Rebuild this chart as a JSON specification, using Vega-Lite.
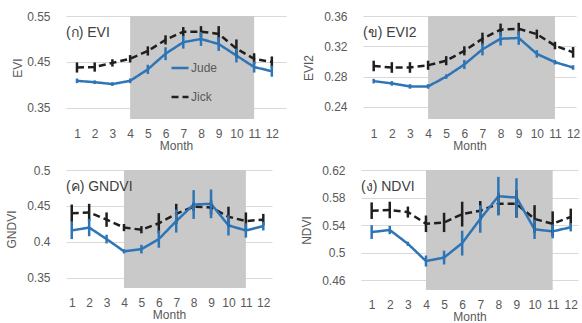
{
  "$schema": "https://vega.github.io/schema/vega-lite/v6.json",
  "padding": {"left": 5, "top": 10, "right": 5, "bottom": 5},
  "data": {"values": [
    {"index":"EVI","series":"Jick","month":1,"value":0.438,"err":0.011},
    {"index":"EVI","series":"Jick","month":2,"value":0.439,"err":0.01},
    {"index":"EVI","series":"Jick","month":3,"value":0.448,"err":0.008},
    {"index":"EVI","series":"Jick","month":4,"value":0.457,"err":0.008},
    {"index":"EVI","series":"Jick","month":5,"value":0.474,"err":0.01},
    {"index":"EVI","series":"Jick","month":6,"value":0.498,"err":0.01},
    {"index":"EVI","series":"Jick","month":7,"value":0.516,"err":0.01},
    {"index":"EVI","series":"Jick","month":8,"value":0.516,"err":0.012},
    {"index":"EVI","series":"Jick","month":9,"value":0.511,"err":0.017},
    {"index":"EVI","series":"Jick","month":10,"value":0.479,"err":0.02},
    {"index":"EVI","series":"Jick","month":11,"value":0.457,"err":0.012},
    {"index":"EVI","series":"Jick","month":12,"value":0.45,"err":0.012},
    {"index":"EVI","series":"Jude","month":1,"value":0.409,"err":0.005},
    {"index":"EVI","series":"Jude","month":2,"value":0.406,"err":0.004},
    {"index":"EVI","series":"Jude","month":3,"value":0.402,"err":0.004},
    {"index":"EVI","series":"Jude","month":4,"value":0.409,"err":0.005},
    {"index":"EVI","series":"Jude","month":5,"value":0.434,"err":0.01},
    {"index":"EVI","series":"Jude","month":6,"value":0.468,"err":0.014},
    {"index":"EVI","series":"Jude","month":7,"value":0.493,"err":0.014},
    {"index":"EVI","series":"Jude","month":8,"value":0.5,"err":0.015},
    {"index":"EVI","series":"Jude","month":9,"value":0.489,"err":0.015},
    {"index":"EVI","series":"Jude","month":10,"value":0.464,"err":0.015},
    {"index":"EVI","series":"Jude","month":11,"value":0.439,"err":0.012},
    {"index":"EVI","series":"Jude","month":12,"value":0.43,"err":0.012},
    {"index":"EVI2","series":"Jick","month":1,"value":0.294,"err":0.007},
    {"index":"EVI2","series":"Jick","month":2,"value":0.292,"err":0.007},
    {"index":"EVI2","series":"Jick","month":3,"value":0.292,"err":0.007},
    {"index":"EVI2","series":"Jick","month":4,"value":0.295,"err":0.006},
    {"index":"EVI2","series":"Jick","month":5,"value":0.301,"err":0.006},
    {"index":"EVI2","series":"Jick","month":6,"value":0.314,"err":0.006},
    {"index":"EVI2","series":"Jick","month":7,"value":0.33,"err":0.008},
    {"index":"EVI2","series":"Jick","month":8,"value":0.342,"err":0.008},
    {"index":"EVI2","series":"Jick","month":9,"value":0.343,"err":0.008},
    {"index":"EVI2","series":"Jick","month":10,"value":0.336,"err":0.006},
    {"index":"EVI2","series":"Jick","month":11,"value":0.321,"err":0.005},
    {"index":"EVI2","series":"Jick","month":12,"value":0.312,"err":0.007},
    {"index":"EVI2","series":"Jude","month":1,"value":0.274,"err":0.003},
    {"index":"EVI2","series":"Jude","month":2,"value":0.271,"err":0.003},
    {"index":"EVI2","series":"Jude","month":3,"value":0.267,"err":0.003},
    {"index":"EVI2","series":"Jude","month":4,"value":0.267,"err":0.003},
    {"index":"EVI2","series":"Jude","month":5,"value":0.28,"err":0.003},
    {"index":"EVI2","series":"Jude","month":6,"value":0.296,"err":0.006},
    {"index":"EVI2","series":"Jude","month":7,"value":0.316,"err":0.008},
    {"index":"EVI2","series":"Jude","month":8,"value":0.33,"err":0.009},
    {"index":"EVI2","series":"Jude","month":9,"value":0.331,"err":0.009},
    {"index":"EVI2","series":"Jude","month":10,"value":0.31,"err":0.005},
    {"index":"EVI2","series":"Jude","month":11,"value":0.299,"err":0.003},
    {"index":"EVI2","series":"Jude","month":12,"value":0.292,"err":0.003},
    {"index":"GNDVI","series":"Jick","month":1,"value":0.44,"err":0.012},
    {"index":"GNDVI","series":"Jick","month":2,"value":0.441,"err":0.012},
    {"index":"GNDVI","series":"Jick","month":3,"value":0.431,"err":0.01},
    {"index":"GNDVI","series":"Jick","month":4,"value":0.42,"err":0.005},
    {"index":"GNDVI","series":"Jick","month":5,"value":0.417,"err":0.005},
    {"index":"GNDVI","series":"Jick","month":6,"value":0.426,"err":0.014},
    {"index":"GNDVI","series":"Jick","month":7,"value":0.439,"err":0.014},
    {"index":"GNDVI","series":"Jick","month":8,"value":0.449,"err":0.006},
    {"index":"GNDVI","series":"Jick","month":9,"value":0.448,"err":0.01},
    {"index":"GNDVI","series":"Jick","month":10,"value":0.435,"err":0.014},
    {"index":"GNDVI","series":"Jick","month":11,"value":0.429,"err":0.012},
    {"index":"GNDVI","series":"Jick","month":12,"value":0.431,"err":0.008},
    {"index":"GNDVI","series":"Jude","month":1,"value":0.416,"err":0.012},
    {"index":"GNDVI","series":"Jude","month":2,"value":0.42,"err":0.012},
    {"index":"GNDVI","series":"Jude","month":3,"value":0.404,"err":0.006},
    {"index":"GNDVI","series":"Jude","month":4,"value":0.387,"err":0.003},
    {"index":"GNDVI","series":"Jude","month":5,"value":0.39,"err":0.006},
    {"index":"GNDVI","series":"Jude","month":6,"value":0.404,"err":0.012},
    {"index":"GNDVI","series":"Jude","month":7,"value":0.429,"err":0.016},
    {"index":"GNDVI","series":"Jude","month":8,"value":0.452,"err":0.02},
    {"index":"GNDVI","series":"Jude","month":9,"value":0.453,"err":0.02},
    {"index":"GNDVI","series":"Jude","month":10,"value":0.423,"err":0.014},
    {"index":"GNDVI","series":"Jude","month":11,"value":0.416,"err":0.01},
    {"index":"GNDVI","series":"Jude","month":12,"value":0.422,"err":0.006},
    {"index":"NDVI","series":"Jick","month":1,"value":0.561,"err":0.012},
    {"index":"NDVI","series":"Jick","month":2,"value":0.562,"err":0.012},
    {"index":"NDVI","series":"Jick","month":3,"value":0.559,"err":0.008},
    {"index":"NDVI","series":"Jick","month":4,"value":0.542,"err":0.012},
    {"index":"NDVI","series":"Jick","month":5,"value":0.544,"err":0.014},
    {"index":"NDVI","series":"Jick","month":6,"value":0.556,"err":0.018},
    {"index":"NDVI","series":"Jick","month":7,"value":0.561,"err":0.014},
    {"index":"NDVI","series":"Jick","month":8,"value":0.571,"err":0.016},
    {"index":"NDVI","series":"Jick","month":9,"value":0.571,"err":0.02},
    {"index":"NDVI","series":"Jick","month":10,"value":0.549,"err":0.02},
    {"index":"NDVI","series":"Jick","month":11,"value":0.542,"err":0.018},
    {"index":"NDVI","series":"Jick","month":12,"value":0.552,"err":0.012},
    {"index":"NDVI","series":"Jude","month":1,"value":0.53,"err":0.01},
    {"index":"NDVI","series":"Jude","month":2,"value":0.533,"err":0.006},
    {"index":"NDVI","series":"Jude","month":3,"value":0.513,"err":0.003},
    {"index":"NDVI","series":"Jude","month":4,"value":0.488,"err":0.008},
    {"index":"NDVI","series":"Jude","month":5,"value":0.493,"err":0.01},
    {"index":"NDVI","series":"Jude","month":6,"value":0.514,"err":0.018},
    {"index":"NDVI","series":"Jude","month":7,"value":0.549,"err":0.02},
    {"index":"NDVI","series":"Jude","month":8,"value":0.582,"err":0.028},
    {"index":"NDVI","series":"Jude","month":9,"value":0.58,"err":0.028},
    {"index":"NDVI","series":"Jude","month":10,"value":0.534,"err":0.014},
    {"index":"NDVI","series":"Jude","month":11,"value":0.531,"err":0.01},
    {"index":"NDVI","series":"Jude","month":12,"value":0.537,"err":0.006}
  ]},
  "spacing": 13,
  "vconcat": [
    {
      "spacing": 16,
      "hconcat": [
        {
          "width": 220, "height": 103,
          "title": {"text": "(ก) EVI"},
          "layer": [
            {"data": {"values": [{"start": 4, "end": 11}]}, "mark": {"type": "rect", "color": "#c9c9c9"},
             "encoding": {"x": {"field": "start", "type": "quantitative", "scale": {"domain": [0.38, 12.8], "nice": false, "zero": false}, "axis": {"values": [1,2,3,4,5,6,7,8,9,10,11,12], "title": "Month", "labelOverlap": false}}, "x2": {"field": "end"}}},
            {"transform": [{"filter": "datum.index == 'EVI'"}], "mark": {"type": "line", "strokeWidth": 2.5},
             "encoding": {"x": {"field": "month", "type": "quantitative", "axis": {"values": [1,2,3,4,5,6,7,8,9,10,11,12], "title": "Month", "labelOverlap": false}},
               "y": {"field": "value", "type": "quantitative", "scale": {"domain": [0.326, 0.55], "nice": false, "zero": false}, "axis": {"values": [0.35, 0.45, 0.55], "format": ".2~f", "title": "EVI", "titlePadding": 2}},
               "color": {"field": "series", "type": "nominal", "scale": {"domain": ["Jude", "Jick"], "range": ["#2e75b6", "#1f1f1f"]}},
               "strokeDash": {"field": "series", "type": "nominal", "scale": {"domain": ["Jude", "Jick"], "range": [[1, 0], [7, 4]]}}}},
            {"transform": [{"filter": "datum.index == 'EVI'"}], "mark": {"type": "errorbar", "thickness": 2.5},
             "encoding": {"x": {"field": "month", "type": "quantitative", "axis": {"values": [1,2,3,4,5,6,7,8,9,10,11,12], "title": "Month", "labelOverlap": false}},
               "y": {"field": "value", "type": "quantitative", "scale": {"domain": [0.326, 0.55], "nice": false, "zero": false}, "axis": {"values": [0.35, 0.45, 0.55], "format": ".2~f", "title": "EVI", "titlePadding": 2}},
               "yError": {"field": "err"},
               "color": {"field": "series", "type": "nominal"}}}
          ]
        },
        {
          "width": 213, "height": 103,
          "title": {"text": "(ข) EVI2"},
          "layer": [
            {"data": {"values": [{"start": 4, "end": 11}]}, "mark": {"type": "rect", "color": "#c9c9c9"},
             "encoding": {"x": {"field": "start", "type": "quantitative", "scale": {"domain": [0.41, 12.16], "nice": false, "zero": false}, "axis": {"values": [1,2,3,4,5,6,7,8,9,10,11,12], "title": "Month", "labelOverlap": false}}, "x2": {"field": "end"}}},
            {"transform": [{"filter": "datum.index == 'EVI2'"}], "mark": {"type": "line", "strokeWidth": 2.5},
             "encoding": {"x": {"field": "month", "type": "quantitative", "axis": {"values": [1,2,3,4,5,6,7,8,9,10,11,12], "title": "Month", "labelOverlap": false}},
               "y": {"field": "value", "type": "quantitative", "scale": {"domain": [0.224, 0.36], "nice": false, "zero": false}, "axis": {"values": [0.24, 0.28, 0.32, 0.36], "format": ".2~f", "title": "EVI2", "titlePadding": 8}},
               "color": {"field": "series", "type": "nominal"},
               "strokeDash": {"field": "series", "type": "nominal"}}},
            {"transform": [{"filter": "datum.index == 'EVI2'"}], "mark": {"type": "errorbar", "thickness": 2.5},
             "encoding": {"x": {"field": "month", "type": "quantitative", "axis": {"values": [1,2,3,4,5,6,7,8,9,10,11,12], "title": "Month", "labelOverlap": false}},
               "y": {"field": "value", "type": "quantitative", "scale": {"domain": [0.224, 0.36], "nice": false, "zero": false}, "axis": {"values": [0.24, 0.28, 0.32, 0.36], "format": ".2~f", "title": "EVI2", "titlePadding": 8}},
               "yError": {"field": "err"},
               "color": {"field": "series", "type": "nominal"}}}
          ]
        }
      ]
    },
    {
      "spacing": 28,
      "hconcat": [
        {
          "width": 206, "height": 118,
          "title": {"text": "(ค) GNDVI"},
          "layer": [
            {"data": {"values": [{"start": 4, "end": 11}]}, "mark": {"type": "rect", "color": "#c9c9c9"},
             "encoding": {"x": {"field": "start", "type": "quantitative", "scale": {"domain": [0.67, 12.5], "nice": false, "zero": false}, "axis": {"values": [1,2,3,4,5,6,7,8,9,10,11,12], "title": "Month", "labelOverlap": false}}, "x2": {"field": "end"}}},
            {"transform": [{"filter": "datum.index == 'GNDVI'"}], "mark": {"type": "line", "strokeWidth": 2.5},
             "encoding": {"x": {"field": "month", "type": "quantitative", "axis": {"values": [1,2,3,4,5,6,7,8,9,10,11,12], "title": "Month", "labelOverlap": false}},
               "y": {"field": "value", "type": "quantitative", "scale": {"domain": [0.336, 0.5], "nice": false, "zero": false}, "axis": {"values": [0.35, 0.4, 0.45, 0.5], "format": ".2~f", "title": "GNDVI", "titlePadding": 8}},
               "color": {"field": "series", "type": "nominal"},
               "strokeDash": {"field": "series", "type": "nominal"}}},
            {"transform": [{"filter": "datum.index == 'GNDVI'"}], "mark": {"type": "errorbar", "thickness": 2.5},
             "encoding": {"x": {"field": "month", "type": "quantitative", "axis": {"values": [1,2,3,4,5,6,7,8,9,10,11,12], "title": "Month", "labelOverlap": false}},
               "y": {"field": "value", "type": "quantitative", "scale": {"domain": [0.336, 0.5], "nice": false, "zero": false}, "axis": {"values": [0.35, 0.4, 0.45, 0.5], "format": ".2~f", "title": "GNDVI", "titlePadding": 8}},
               "yError": {"field": "err"},
               "color": {"field": "series", "type": "nominal"}}}
          ]
        },
        {
          "width": 217, "height": 120,
          "title": {"text": "(ง) NDVI"},
          "layer": [
            {"data": {"values": [{"start": 4, "end": 11}]}, "mark": {"type": "rect", "color": "#c9c9c9"},
             "encoding": {"x": {"field": "start", "type": "quantitative", "scale": {"domain": [0.41, 12.4], "nice": false, "zero": false}, "axis": {"values": [1,2,3,4,5,6,7,8,9,10,11,12], "title": "Month", "labelOverlap": false}}, "x2": {"field": "end"}}},
            {"transform": [{"filter": "datum.index == 'NDVI'"}], "mark": {"type": "line", "strokeWidth": 2.5},
             "encoding": {"x": {"field": "month", "type": "quantitative", "axis": {"values": [1,2,3,4,5,6,7,8,9,10,11,12], "title": "Month", "labelOverlap": false}},
               "y": {"field": "value", "type": "quantitative", "scale": {"domain": [0.446, 0.62], "nice": false, "zero": false}, "axis": {"values": [0.46, 0.5, 0.54, 0.58, 0.62], "format": ".2~f", "title": "NDVI", "titlePadding": 8}},
               "color": {"field": "series", "type": "nominal"},
               "strokeDash": {"field": "series", "type": "nominal"}}},
            {"transform": [{"filter": "datum.index == 'NDVI'"}], "mark": {"type": "errorbar", "thickness": 2.5},
             "encoding": {"x": {"field": "month", "type": "quantitative", "axis": {"values": [1,2,3,4,5,6,7,8,9,10,11,12], "title": "Month", "labelOverlap": false}},
               "y": {"field": "value", "type": "quantitative", "scale": {"domain": [0.446, 0.62], "nice": false, "zero": false}, "axis": {"values": [0.46, 0.5, 0.54, 0.58, 0.62], "format": ".2~f", "title": "NDVI", "titlePadding": 8}},
               "yError": {"field": "err"},
               "color": {"field": "series", "type": "nominal"}}}
          ]
        }
      ]
    }
  ],
  "config": {
    "font": "Liberation Sans",
    "view": {"stroke": null},
    "axis": {"labelColor": "#595959", "titleColor": "#595959", "labelFontSize": 12, "titleFontSize": 12, "titleFontWeight": "normal", "domain": false, "ticks": false, "gridColor": "#d9d9d9", "labelFont": "Liberation Sans", "titleFont": "Liberation Sans", "labelOverlap": false},
    "axisX": {"grid": false, "labelPadding": 9, "titlePadding": 1, "labelFlush": false},
    "axisY": {"labelPadding": 16},
    "legend": {"orient": "none", "legendX": 104, "legendY": 42, "title": null, "symbolType": "stroke", "symbolSize": 289, "symbolStrokeWidth": 2.5, "labelFontSize": 12, "labelColor": "#595959", "rowPadding": 13, "labelOffset": 1},
    "title": {"anchor": "start", "frame": "group", "offset": -30, "fontSize": 14, "fontWeight": "normal", "color": "#404040"}
  }
}
